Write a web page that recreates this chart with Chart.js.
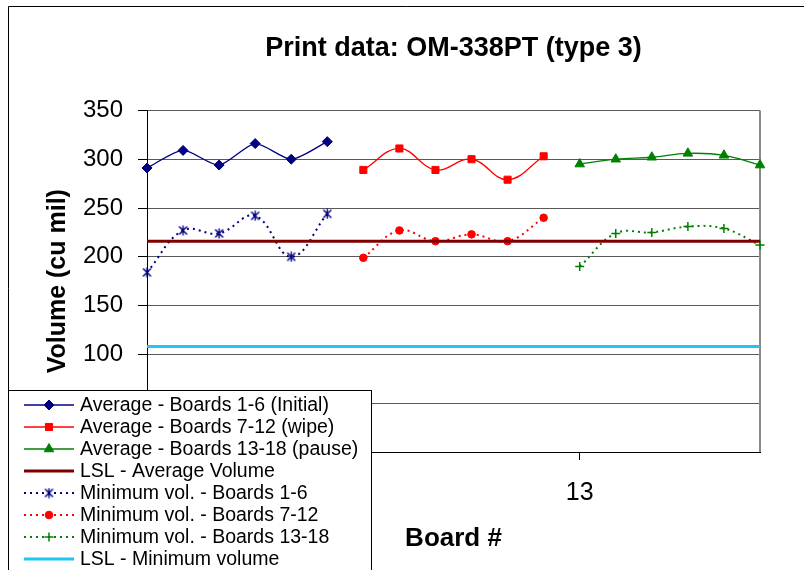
<!DOCTYPE html>
<html>
<head>
<meta charset="utf-8">
<script src="https://cdn.jsdelivr.net/npm/chart.js@4.4.1/dist/chart.umd.min.js"></script>
<style>
html,body{margin:0;padding:0;background:#fff;}
#wrap{position:relative;width:804px;height:570px;overflow:hidden;}
canvas{display:block;}
</style>
</head>
<body>
<div id="wrap"><canvas id="c" width="804" height="570"></canvas></div>
<script>
// ---- data ----
const boards = ['1','2','3','4','5','6','7','8','9','10','11','12','13','14','15','16','17','18'];
const boardsInitial = ['1','2','3','4','5','6'];
const boardsWipe = ['7','8','9','10','11','12'];
const boardsPause = ['13','14','15','16','17','18'];

const avgInitial = [291, 309, 294, 316, 300, 318];
const avgWipe    = [289, 311, 289, 300, 279, 303];
const avgPause   = [295, 300, 302, 306, 304, 294];

const minInitial = [184, 227, 224, 242, 200, 244];
const minWipe    = [199, 227, 216, 223, 216, 240];
const minPause   = [190, 224, 225, 231, 229, 212];

const lslAverage = [216,216,216,216,216,216,216,216,216,216,216,216,216,216,216,216,216,216];
const lslMinimum = [108,108,108,108,108,108,108,108,108,108,108,108,108,108,108,108,108,108];

const yTickValues = [0, 50, 100, 150, 200, 250, 300, 350];
const xLabelShown = ['1', '13'];

const FONT = "'Liberation Sans', Arial, sans-serif";
Chart.defaults.font.family = FONT;
Chart.defaults.color = '#000';

function pts(xs, ys) { return ys.map((v, i) => ({x: xs[i], y: v})); }

function starMarker(color) {
  const c = document.createElement('canvas');
  c.width = 11; c.height = 11;
  const g = c.getContext('2d');
  g.strokeStyle = color; g.lineWidth = 1.4;
  g.beginPath();
  g.moveTo(1.5, 1.5); g.lineTo(9.5, 9.5);
  g.moveTo(9.5, 1.5); g.lineTo(1.5, 9.5);
  g.moveTo(5.5, 0.5); g.lineTo(5.5, 10.5);
  g.stroke();
  return c;
}

const NAVY = '#000080', RED = '#FF0000', GREEN = '#008000', DARKRED = '#800000', CYAN = '#1EC8F5';
const DOT = [2, 4];

const datasets = [
  {label: 'Average - Boards 1-6 (Initial)', data: pts(boardsInitial, avgInitial), borderColor: NAVY, backgroundColor: NAVY,
   borderWidth: 1.3, pointStyle: 'rectRot', pointRadius: 5, pointBackgroundColor: NAVY, pointBorderColor: NAVY, pointBorderWidth: 1, tension: 0.25},
  {label: 'Average - Boards 7-12 (wipe)', data: pts(boardsWipe, avgWipe), borderColor: RED, backgroundColor: RED,
   borderWidth: 1.3, pointStyle: 'rect', pointRadius: 5, pointBackgroundColor: RED, pointBorderColor: RED, pointBorderWidth: 1, tension: 0.4},
  {label: 'Average - Boards 13-18 (pause)', data: pts(boardsPause, avgPause), borderColor: GREEN, backgroundColor: GREEN,
   borderWidth: 1.3, pointStyle: 'triangle', pointRadius: 5.5, pointBackgroundColor: GREEN, pointBorderColor: GREEN, pointBorderWidth: 1, tension: 0.4},
  {label: 'LSL - Average Volume', data: lslAverage, borderColor: DARKRED, backgroundColor: DARKRED,
   borderWidth: 3, pointRadius: 0, tension: 0},
  {label: 'Minimum vol. - Boards 1-6', data: pts(boardsInitial, minInitial), borderColor: NAVY, backgroundColor: NAVY,
   borderWidth: 2, borderDash: DOT, pointStyle: starMarker(NAVY), pointRadius: 5, pointBackgroundColor: NAVY, pointBorderColor: NAVY, pointBorderWidth: 1, tension: 0.4},
  {label: 'Minimum vol. - Boards 7-12', data: pts(boardsWipe, minWipe), borderColor: RED, backgroundColor: RED,
   borderWidth: 2, borderDash: DOT, pointStyle: 'circle', pointRadius: 3.8, pointBackgroundColor: RED, pointBorderColor: RED, pointBorderWidth: 1, tension: 0.4},
  {label: 'Minimum vol. - Boards 13-18', data: pts(boardsPause, minPause), borderColor: GREEN, backgroundColor: GREEN,
   borderWidth: 2, borderDash: DOT, pointStyle: 'cross', pointRadius: 4.5, pointBackgroundColor: GREEN, pointBorderColor: GREEN, pointBorderWidth: 1.5, tension: 0.4},
  {label: 'LSL - Minimum volume', data: lslMinimum, borderColor: CYAN, backgroundColor: CYAN,
   borderWidth: 3, pointRadius: 0, tension: 0}
];

const framePlugin = {
  id: 'frame',
  beforeDraw(chart) {
    const ctx = chart.ctx;
    ctx.save();
    ctx.fillStyle = '#fff';
    ctx.fillRect(0, 0, chart.width, chart.height);
    ctx.strokeStyle = '#000'; ctx.lineWidth = 1;
    ctx.beginPath();
    ctx.moveTo(8.5, chart.height); ctx.lineTo(8.5, 6.5); ctx.lineTo(chart.width, 6.5);
    ctx.stroke();
    ctx.restore();
  },
  beforeDatasetsDraw(chart) {
    const {ctx, chartArea: a} = chart;
    ctx.save();
    ctx.strokeStyle = '#8a8a8a'; ctx.lineWidth = 2;
    ctx.beginPath();
    ctx.moveTo(a.right, a.top); ctx.lineTo(a.right, a.bottom);
    ctx.stroke();
    ctx.restore();
  }
};

const legendPlugin = {
  id: 'boxLegend',
  afterDraw(chart) {
    const ctx = chart.ctx;
    ctx.save();
    ctx.fillStyle = '#fff';
    ctx.fillRect(8.5, 390.5, 363, 200);
    ctx.strokeStyle = '#000'; ctx.lineWidth = 1;
    ctx.strokeRect(8.5, 390.5, 363, 200);
    chart.data.datasets.forEach((ds, i) => {
      const y = 405 + i * 22;
      ctx.save();
      ctx.strokeStyle = ds.borderColor;
      ctx.lineWidth = ds.borderWidth;
      ctx.setLineDash(ds.borderDash || []);
      ctx.beginPath(); ctx.moveTo(24, y); ctx.lineTo(74, y); ctx.stroke();
      ctx.setLineDash([]);
      if (ds.pointRadius > 0) {
        ctx.fillStyle = ds.pointBackgroundColor;
        ctx.strokeStyle = ds.pointBorderColor;
        ctx.lineWidth = ds.pointBorderWidth;
        Chart.helpers.drawPoint(ctx, {pointStyle: ds.pointStyle, radius: ds.pointRadius, rotation: 0, borderWidth: ds.pointBorderWidth}, 49, y);
      }
      ctx.restore();
      ctx.fillStyle = '#000';
      ctx.font = '19.5px ' + FONT;
      ctx.textBaseline = 'middle'; ctx.textAlign = 'left';
      ctx.fillText(ds.label, 80, y + 1);
    });
    ctx.restore();
  }
};

new Chart(document.getElementById('c'), {
  type: 'line',
  data: {labels: boards, datasets: datasets},
  plugins: [framePlugin, legendPlugin],
  options: {
    responsive: false,
    devicePixelRatio: 1,
    animation: false,
    events: [],
    layout: {padding: {left: 0, right: 44, top: 0, bottom: 0}},
    plugins: {
      legend: {display: false},
      tooltip: {enabled: false},
      title: {
        display: true, fullSize: false,
        text: 'Print data: OM-338PT (type 3)',
        color: '#000',
        font: {size: 27, weight: 'bold', family: FONT},
        padding: {top: 32, bottom: 46}
      }
    },
    scales: {
      x: {
        type: 'category', offset: false,
        afterFit(s) { s.height = 118; },
        grid: {
          drawOnChartArea: false, drawTicks: true, tickLength: 8,
          tickColor: (c) => (c.tick && xLabelShown.includes(boards[c.index])) ? '#000' : 'rgba(0,0,0,0)'
        },
        border: {color: '#000', width: 1},
        ticks: {
          autoSkip: false, maxRotation: 0, padding: 18,
          font: {size: 25, family: FONT}, color: '#000',
          callback: (v, i) => xLabelShown.includes(boards[i]) ? boards[i] : ''
        },
        title: {display: true, text: 'Board #', color: '#000', font: {size: 26, weight: 'bold', family: FONT}, padding: {top: 0, bottom: 16}}
      },
      y: {
        min: 0, max: 350,
        afterFit(s) { s.width = 147; },
        afterBuildTicks(s) { s.ticks = yTickValues.map(v => ({value: v})); },
        grid: {color: '#5a5a5a', lineWidth: 1, tickLength: 9, tickColor: '#000'},
        border: {color: '#000', width: 1},
        ticks: {padding: 15, font: {size: 24, family: FONT}, color: '#000'},
        title: {display: true, text: 'Volume (cu mil)', color: '#000', font: {size: 25, weight: 'bold', family: FONT}, padding: {top: 43, bottom: 0}}
      }
    }
  }
});
</script>
</body>
</html>
